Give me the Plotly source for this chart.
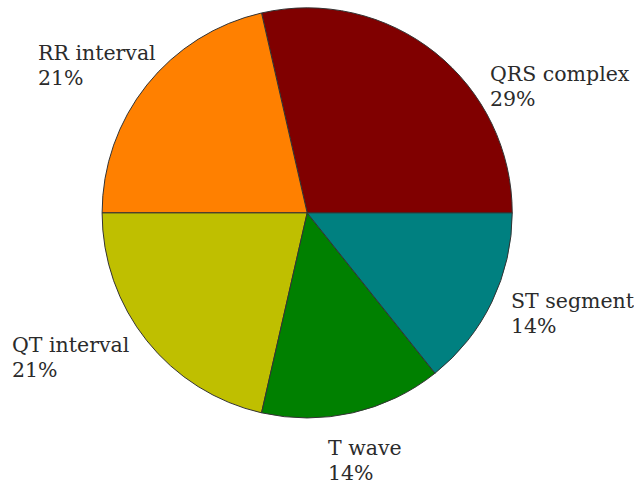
import plotly.graph_objects as go

labels = ["QRS complex", "RR interval", "QT interval", "T wave", "ST segment"]
values = [4, 3, 3, 2, 2]
colors = ["#800000", "#FF8000", "#BFBF00", "#008000", "#008080"]

W, H = 634, 490
# label placement (left edge, cap-top of first line) in pixels -- layout only
label_pos = {
    "QRS complex": (489, 68),
    "RR interval": (37, 47),
    "QT interval": (11, 339),
    "T wave": (327, 442),
    "ST segment": (510, 295),
}
LINE_PITCH = 25
CAP_OFFSET = 7  # distance from annotation box top to cap top

total = sum(values)
first_angle = 360.0 * values[0] / total

fig = go.Figure(go.Pie(
    labels=labels,
    values=values,
    sort=False,
    direction="counterclockwise",
    rotation=90 - first_angle,
    marker=dict(colors=colors, line=dict(color="#333333", width=1)),
    textinfo="none",
    showlegend=False,
    domain=dict(x=[0.161, 0.808], y=[0.147, 0.984]),
    hoverinfo="skip",
))

font = dict(family="DejaVu Serif", size=20.5, color="#2b2b2b")
for lab, val in zip(labels, values):
    px, py = label_pos[lab]
    pct = f"{round(100 * val / total)}%"
    for i, txt in enumerate([lab, pct]):
        top = py + i * LINE_PITCH - CAP_OFFSET
        fig.add_annotation(
            text=txt, xref="paper", yref="paper",
            x=px / W, y=1 - top / H,
            xanchor="left", yanchor="top", align="left",
            showarrow=False, font=font, borderpad=0,
        )

fig.update_layout(
    width=W, height=H,
    margin=dict(l=0, r=0, t=0, b=0),
    paper_bgcolor="white",
)
fig.write_html("out.html")
